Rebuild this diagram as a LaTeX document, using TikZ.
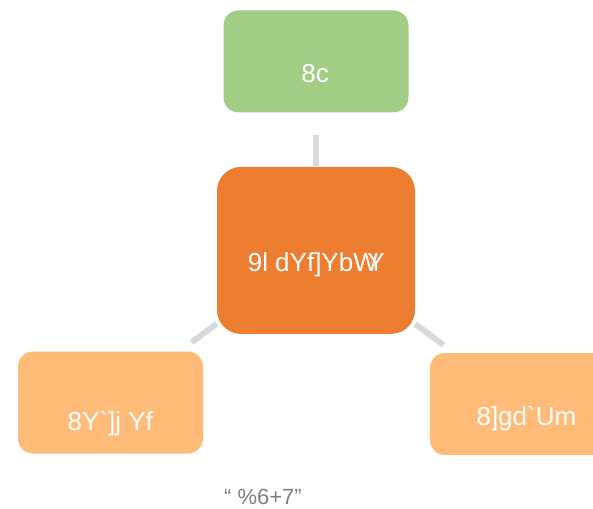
\documentclass[tikz,border=0pt]{standalone}
\usepackage{fontspec}
\setmainfont{Liberation Sans}[Ligatures=TeXOff]
\usepackage{xcolor}
\usetikzlibrary{positioning}

\definecolor{dogreen}{HTML}{A2CD84}
\definecolor{expcolor}{HTML}{ED7D31}
\definecolor{paleorange}{HTML}{FFBC78}
\definecolor{linkgray}{HTML}{D9D9D9}
\definecolor{captiongray}{HTML}{7F7F7F}

\begin{document}
\begin{tikzpicture}[x=1pt, y=-1pt,
    box/.style={rounded corners=15pt, minimum width=185pt, minimum height=102pt, inner sep=0pt},
    boxtext/.style={text=white, font=\fontsize{26}{30}\selectfont, anchor=base, inner sep=0pt},
    link/.style={draw=linkgray, line width=6pt}]
    \useasboundingbox (0,0) rectangle (593,508);

    % Boxes
    \node[box, fill=dogreen] (do) at (316,61.4) {};
    \node[box, fill=expcolor, minimum width=198pt, minimum height=167pt, rounded corners=24pt] (exp) at (316,250.4) {};
    \node[box, fill=paleorange] (deliver) at (110.5,402.5) {};
    \node[box, fill=paleorange] (display) at (522.5,404) {};

    % Links
    \draw[link, shorten <=1pt, shorten >=22pt] (exp.north) -- (do.south);
    \draw[link, shorten >=15pt] (exp) -- (deliver);
    \draw[link, shorten >=13pt] (exp) -- (display);

    % Texts
    \node[boxtext] (do-text) at (315.2,82.3) {8c};
    \node[boxtext] (exp-text) at (316.3,271) {9l dYf]YbW\kern-0.4emY};
    \node[boxtext] (deliver-text) at (110.3,430.7) {8Y`]j Yf};
    \node[boxtext] (display-text) at (526.4,425) {8]gd`Um};
    \node[anchor=base, inner sep=0pt, text=captiongray, font=\fontsize{22}{26}\selectfont] (caption) at (263,504) {“ \%6+7”};
\end{tikzpicture}
\end{document}
